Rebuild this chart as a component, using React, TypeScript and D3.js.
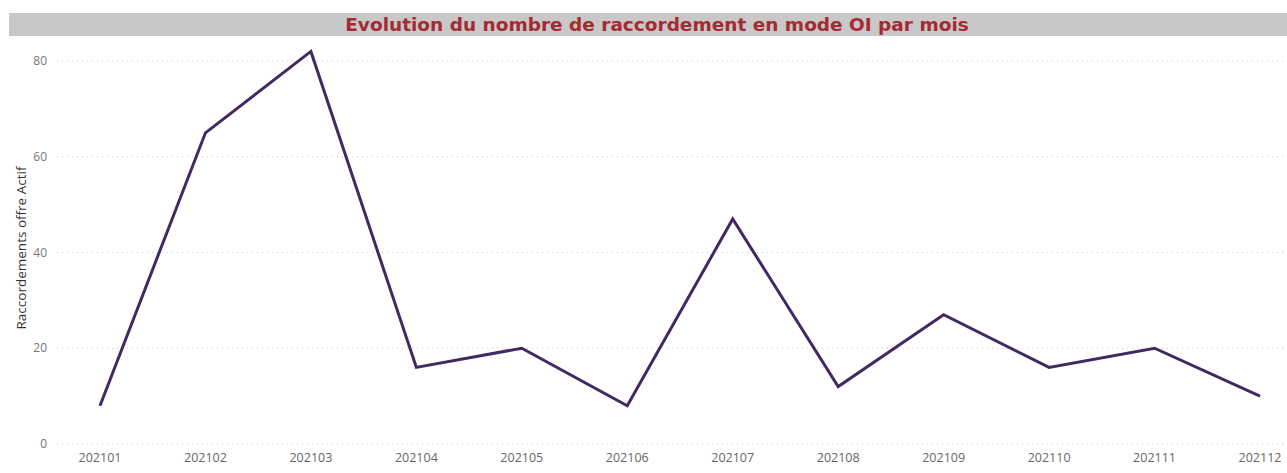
import React from "react";
import * as d3 from "d3";

const categories: string[] = ["202101","202102","202103","202104","202105","202106","202107","202108","202109","202110","202111","202112"];
const values: number[] = [8, 65, 82, 16, 20, 8, 47, 12, 27, 16, 20, 10];
const yTicks: number[] = [0, 20, 40, 60, 80];
const title = "Evolution du nombre de raccordement en mode OI par mois";
const yLabel = "Raccordements offre Actif";

export default function App() {
  const W = 1287, H = 473;
  const x = d3.scalePoint<string>().domain(categories).range([100, 1260]);
  const y = d3.scaleLinear().domain([0, 80]).range([444, 61]);
  const line = d3.line<number>().x((_, i) => x(categories[i])!).y(d => y(d));
  const font = "'Segoe UI', 'Open Sans', 'Noto Sans', sans-serif";
  return (
    <svg width={W} height={H} style={{ position: "absolute", left: 0, top: 0, background: "#fff" }}>
      <rect x={9} y={13} width={1278} height={23} fill="#c8c8c8" />
      <text x={657} y={31} textAnchor="middle" fontFamily="Verdana, 'DejaVu Sans', sans-serif" fontWeight="bold" fontSize={18.5} fill="#a52a32">{title}</text>
      {yTicks.map(t => (
        <g key={t}>
          <line x1={57} x2={1285} y1={y(t)} y2={y(t)} stroke="#c8c8c8" strokeDasharray="1 4" strokeWidth={1} />
          <text x={47} y={y(t) + 4} textAnchor="end" fontFamily={font} fontSize={12} fill="#777">{t}</text>
        </g>
      ))}
      {categories.map(c => (
        <text key={c} x={x(c)} y={462} textAnchor="middle" fontFamily={font} fontSize={12.5} fill="#666">{c}</text>
      ))}
      <text transform={`translate(26, 248) rotate(-90)`} textAnchor="middle" fontFamily={font} fontSize={13.5} fill="#333">{yLabel}</text>
      <path d={line(values)!} fill="none" stroke="#3f2a63" strokeWidth={3} strokeLinejoin="miter" />
    </svg>
  );
}
